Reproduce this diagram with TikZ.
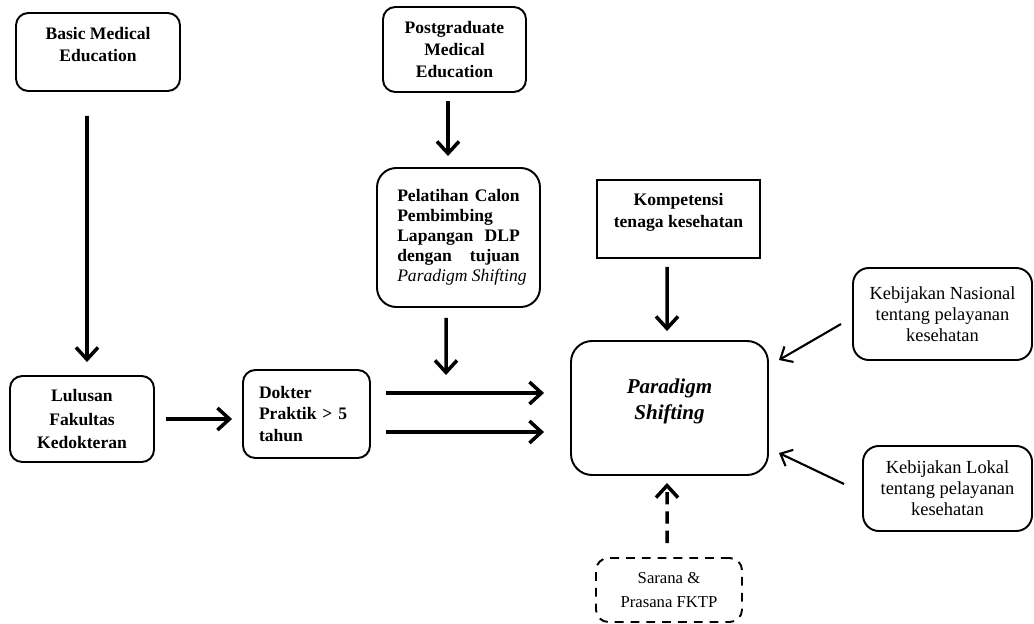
\documentclass[tikz,border=0pt]{standalone}
\usepackage{fontspec}
\setmainfont{Liberation Serif}
\usetikzlibrary{arrows.meta}

\begin{document}
\begin{tikzpicture}[>={Straight Barb[length=2.4mm,width=4.4mm]},
	kotak/.style={draw, line width=1.1pt, rounded corners=7pt, align=center, inner sep=2pt,
		font=\fontsize{10pt}{12.5pt}\selectfont\bfseries},
	kotaktipis/.style={kotak, font=\fontsize{10pt}{12pt}\selectfont},
	panah/.style={->, line width=2pt},
	panahtipis/.style={->, line width=1.2pt, >={Straight Barb[length=2mm,width=3.6mm]}}]
	\useasboundingbox (0,0) rectangle (20.68,12.46);
	% kolom kiri
	\node[kotak, minimum width=3.28cm, minimum height=1.56cm, text depth=0.31cm] (basic) at (1.96,11.42) {Basic Medical\\Education};
	\node[kotak, minimum width=2.88cm, minimum height=1.72cm, font=\fontsize{10pt}{13.5pt}\selectfont\bfseries] (lulusan) at (1.64,4.08) {Lulusan\\Fakultas\\Kedokteran};
	\node[kotak, minimum width=2.54cm, minimum height=1.76cm, text width=1.9cm, align=left, inner xsep=0.3cm] (dokter) at (6.13,4.18) {Dokter\\Praktik > 5\\tahun};
	% kolom tengah
	\node[kotak, minimum width=2.86cm, minimum height=1.7cm] (postgrad) at (9.09,11.47) {Postgraduate\\Medical\\Education};
	\node[kotak, rounded corners=11pt, minimum width=3.26cm, minimum height=2.78cm, text width=2.45cm, align=justify,
		font=\fontsize{10pt}{11.4pt}\selectfont\bfseries] (pelatihan) at (9.17,7.71)
		{Pelatihan\hfill Calon\\Pembimbing\\Lapangan\hfill DLP\\dengan\hfill tujuan\\\mbox{\normalfont\itshape Paradigm Shifting}};
	\coordinate (pelatihanbawah) at (8.92,4.96);
	\node[kotak, rounded corners=0pt, minimum width=3.26cm, minimum height=1.56cm, text depth=0.35cm] (kompetensi) at (13.57,8.08) {Kompetensi\\tenaga kesehatan};
	\node[kotak, rounded corners=12pt, minimum width=3.94cm, minimum height=2.68cm, text depth=0.36cm,
		font=\fontsize{12pt}{15pt}\selectfont\bfseries\itshape] (paradigm) at (13.39,4.3) {Paradigm\\Shifting};
	\node[kotaktipis, dashed, dash pattern=on 5pt off 4pt, minimum width=2.92cm, minimum height=1.28cm,
		font=\fontsize{9.5pt}{14pt}\selectfont] (sarana) at (13.38,0.66) {Sarana \&\\Prasana FKTP};
	% kolom kanan
	\node[kotaktipis, rounded corners=9pt, minimum width=3.58cm, minimum height=1.84cm, font=\fontsize{10.5pt}{12pt}\selectfont] (nasional) at (18.85,6.18) {Kebijakan Nasional\\tentang pelayanan\\kesehatan};
	\node[kotaktipis, rounded corners=9pt, minimum width=3.38cm, minimum height=1.7cm, font=\fontsize{10.5pt}{12pt}\selectfont] (lokal) at (18.95,2.69) {Kebijakan Lokal\\tentang pelayanan\\kesehatan};
	% panah
	\draw[panah, shorten <=0.48cm, shorten >=0.26cm] ([xshift=-0.22cm]basic.south) -- ([xshift=0.1cm]lulusan.north);
	\draw[panah, shorten <=0.22cm, shorten >=0.2cm] (lulusan.east) -- (lulusan.east -| dokter.west);
	\draw[panah, shorten <=0.16cm, shorten >=0.22cm] ([xshift=-0.13cm]postgrad.south) -- ([xshift=-0.21cm]pelatihan.north);
	\draw[panah, shorten <=0.2cm] ([xshift=-0.25cm]pelatihan.south) -- (pelatihanbawah);
	\draw[panah, shorten <=0.3cm, shorten >=0.52cm] ([yshift=0.42cm]dokter.east) -- ([yshift=0.42cm]dokter.east -| paradigm.west);
	\draw[panah, shorten <=0.3cm, shorten >=0.52cm] ([yshift=-0.36cm]dokter.east) -- ([yshift=-0.36cm]dokter.east -| paradigm.west);
	\draw[panah, shorten <=0.16cm, shorten >=0.18cm] ([xshift=-0.23cm]kompetensi.south) -- ([xshift=-0.05cm]paradigm.north);
	\draw[panah, dashed, dash pattern=on 7pt off 4pt, shorten <=0.28cm, shorten >=0.14cm] ([xshift=-0.04cm]sarana.north) -- ([xshift=-0.05cm]paradigm.south);
	\draw[panahtipis] ([xshift=-0.22cm,yshift=-0.2cm]nasional.west) -- ([xshift=0.2cm,yshift=0.96cm]paradigm.east);
	\draw[panahtipis] ([xshift=-0.36cm,yshift=0.09cm]lokal.west) -- ([xshift=0.2cm,yshift=-0.9cm]paradigm.east);
\end{tikzpicture}
\end{document}
